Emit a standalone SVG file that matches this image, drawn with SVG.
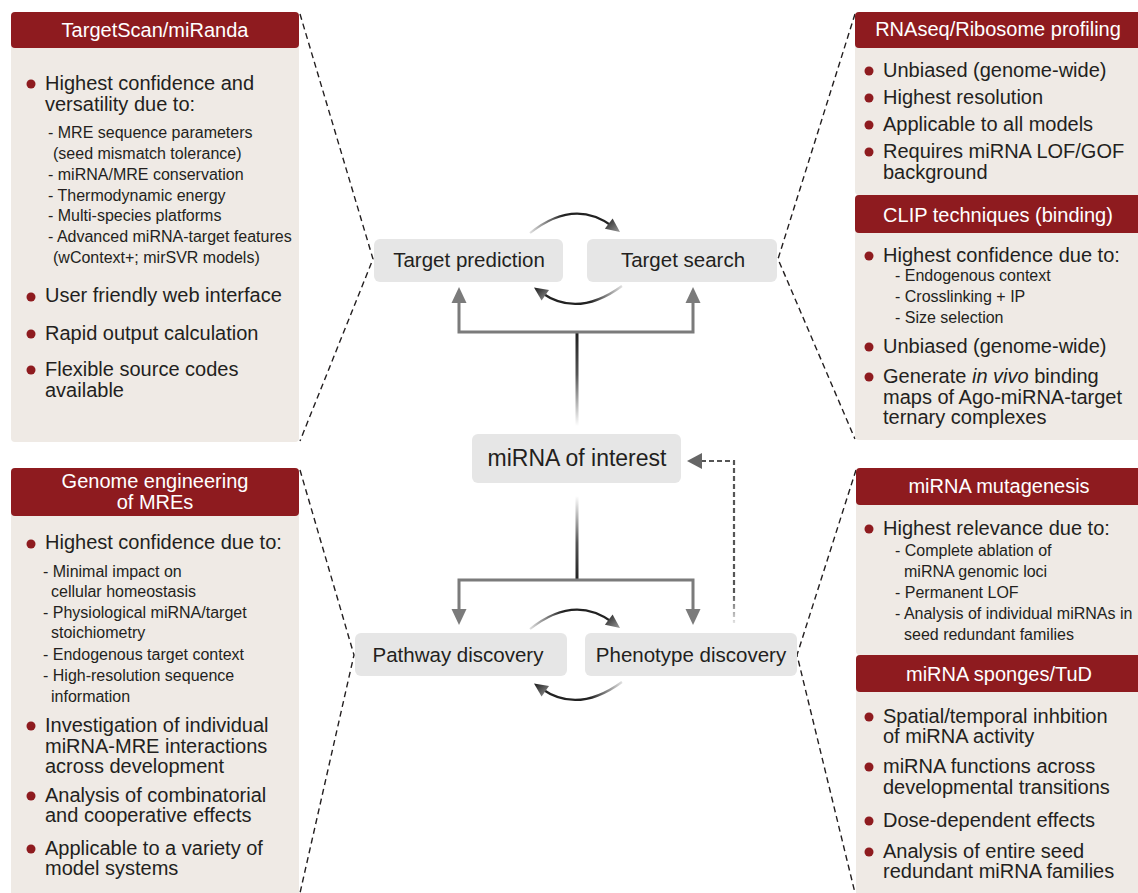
<svg xmlns="http://www.w3.org/2000/svg" width="1138" height="893" viewBox="0 0 1138 893">
  <style>
    text { font-family: "Liberation Sans", Arial, Helvetica, sans-serif; fill: #231f20; }
    .panel { fill: #efeae5; }
    .head { fill: #8e1b1f; }
    .ht { fill: #ffffff; font-size: 20px; text-anchor: middle; }
    .b { font-size: 20px; }
    .s { font-size: 16px; }
    .dot { fill: #8e1b1f; }
    .box { fill: #e6e6e6; }
    .n { font-size: 20.5px; text-anchor: middle; }
    .frame { fill: none; stroke: #231f20; stroke-width: 1.4; stroke-dasharray: 6 4; }
    .branch { fill: none; stroke: #7b7b7b; stroke-width: 3; }
    .bhead { fill: #7b7b7b; }
  </style>
  <defs>
    <linearGradient id="stemUp" gradientUnits="userSpaceOnUse" x1="0" y1="332" x2="0" y2="426">
      <stop offset="0" stop-color="#1e1e1e"/>
      <stop offset="0.45" stop-color="#555"/>
      <stop offset="1" stop-color="#ffffff"/>
    </linearGradient>
    <linearGradient id="stemDown" gradientUnits="userSpaceOnUse" x1="0" y1="496" x2="0" y2="581">
      <stop offset="0" stop-color="#ffffff"/>
      <stop offset="0.55" stop-color="#555"/>
      <stop offset="1" stop-color="#1e1e1e"/>
    </linearGradient>
    <linearGradient id="arcRight" x1="0" y1="0" x2="1" y2="0">
      <stop offset="0" stop-color="#e0e0e0"/>
      <stop offset="0.4" stop-color="#222"/>
      <stop offset="1" stop-color="#222"/>
    </linearGradient>
    <linearGradient id="arcLeft" x1="1" y1="0" x2="0" y2="0">
      <stop offset="0" stop-color="#e0e0e0"/>
      <stop offset="0.4" stop-color="#222"/>
      <stop offset="1" stop-color="#222"/>
    </linearGradient>
    <linearGradient id="headShade" x1="0" y1="0" x2="1" y2="1">
      <stop offset="0" stop-color="#1a1a1a"/>
      <stop offset="1" stop-color="#9a9a9a"/>
    </linearGradient>
    <linearGradient id="dashFade" gradientUnits="userSpaceOnUse" x1="0" y1="455" x2="0" y2="624">
      <stop offset="0" stop-color="#555"/>
      <stop offset="0.82" stop-color="#555"/>
      <stop offset="1" stop-color="#e8e8e8"/>
    </linearGradient>
    <!-- a pair of curved arrows cycling between two neighbouring boxes -->
    <g id="cycle">
      <path d="M530,233 Q574,198 612,226" fill="none" stroke="url(#arcRight)" stroke-width="2.2"/>
      <polygon points="620,232 604.9,228.8 612.6,218.4" fill="url(#headShade)"/>
      <path d="M622,286 Q578,318 542,293" fill="none" stroke="url(#arcLeft)" stroke-width="2.2"/>
      <polygon points="534,287.5 549,290 541.6,300.6" fill="url(#headShade)"/>
    </g>
  </defs>

  <rect width="1138" height="893" fill="#ffffff"/>

  <!-- dashed outlines tying each panel to its central box -->
  <g id="frames">
    <path class="frame" d="M300,14 L373,259 L300,441"/>
    <path class="frame" d="M855,14 L778,259 L855,439"/>
    <path class="frame" d="M300,470 L354,655 L300,893"/>
    <path class="frame" d="M856,470 L797,655 L855,893"/>
  </g>

  <!-- connectors -->
  <g id="connectors">
    <line x1="577" y1="332" x2="577" y2="426" stroke="url(#stemUp)" stroke-width="3"/>
    <path class="branch" d="M459,302 V332 H693 V302"/>
    <polygon class="bhead" points="459,287 451.5,303 466.5,303"/>
    <polygon class="bhead" points="693,287 685.5,303 700.5,303"/>

    <line x1="577" y1="496" x2="577" y2="581" stroke="url(#stemDown)" stroke-width="3"/>
    <path class="branch" d="M459,610 V580 H693 V610"/>
    <polygon class="bhead" points="459,625 451.5,609 466.5,609"/>
    <polygon class="bhead" points="693,625 685.5,609 700.5,609"/>

    <path d="M701,461 H734 V623" fill="none" stroke="url(#dashFade)" stroke-width="2.2" stroke-dasharray="5 3"/>
    <polygon points="687,461 702,453 702,469" fill="#666"/>

    <use href="#cycle"/>
    <use href="#cycle" transform="translate(0,396)"/>
  </g>

  <!-- central boxes -->
  <g id="target-prediction">
    <rect class="box" x="374" y="239" width="189" height="43" rx="6"/>
    <text class="n" x="469" y="267">Target prediction</text>
  </g>
  <g id="target-search">
    <rect class="box" x="587" y="239" width="190" height="43" rx="6"/>
    <text class="n" x="683" y="267">Target search</text>
  </g>
  <g id="mirna-of-interest">
    <rect class="box" x="472" y="434" width="209" height="49" rx="6"/>
    <text class="n" x="577" y="466" style="font-size:23px">miRNA of interest</text>
  </g>
  <g id="pathway-discovery">
    <rect class="box" x="355" y="633" width="212" height="43" rx="6"/>
    <text class="n" x="458" y="662">Pathway discovery</text>
  </g>
  <g id="phenotype-discovery">
    <rect class="box" x="585" y="633" width="212" height="43" rx="6"/>
    <text class="n" x="691" y="662">Phenotype discovery</text>
  </g>

  <!-- top left panel -->
  <g id="targetscan-panel">
    <rect class="panel" x="11" y="12" width="288" height="430" rx="4"/>
    <rect class="head" x="11" y="12" width="288" height="36" rx="4"/>
    <text class="ht" x="155" y="37">TargetScan/miRanda</text>
    <circle class="dot" cx="31" cy="84" r="4.5"/>
    <text class="b" x="45" y="90">Highest confidence and</text>
    <text class="b" x="45" y="111">versatility due to:</text>
    <text class="s" x="48" y="138">- MRE sequence parameters</text>
    <text class="s" x="53" y="159">(seed mismatch tolerance)</text>
    <text class="s" x="48" y="180">- miRNA/MRE conservation</text>
    <text class="s" x="48" y="201">- Thermodynamic energy</text>
    <text class="s" x="48" y="221">- Multi-species platforms</text>
    <text class="s" x="48" y="242">- Advanced miRNA-target features</text>
    <text class="s" x="53" y="263">(wContext+; mirSVR models)</text>
    <circle class="dot" cx="31" cy="297" r="4.5"/>
    <text class="b" x="45" y="302">User friendly web interface</text>
    <circle class="dot" cx="31" cy="334" r="4.5"/>
    <text class="b" x="45" y="340">Rapid output calculation</text>
    <circle class="dot" cx="31" cy="370" r="4.5"/>
    <text class="b" x="45" y="376">Flexible source codes</text>
    <text class="b" x="45" y="397">available</text>
  </g>

  <!-- top right panels -->
  <g id="rnaseq-panel">
    <rect class="panel" x="855" y="12" width="300" height="183" rx="4"/>
    <rect class="head" x="855" y="12" width="300" height="36" rx="4"/>
    <text class="ht" x="998" y="36">RNAseq/Ribosome profiling</text>
    <circle class="dot" cx="869" cy="71" r="4.5"/>
    <text class="b" x="883" y="77">Unbiased (genome-wide)</text>
    <circle class="dot" cx="869" cy="98" r="4.5"/>
    <text class="b" x="883" y="104">Highest resolution</text>
    <circle class="dot" cx="869" cy="125" r="4.5"/>
    <text class="b" x="883" y="131">Applicable to all models</text>
    <circle class="dot" cx="869" cy="152" r="4.5"/>
    <text class="b" x="883" y="158">Requires miRNA LOF/GOF</text>
    <text class="b" x="883" y="179">background</text>
  </g>
  <g id="clip-panel">
    <rect class="panel" x="855" y="195" width="300" height="245" rx="4"/>
    <rect class="head" x="855" y="195" width="300" height="38" rx="4"/>
    <text class="ht" x="998" y="222">CLIP techniques (binding)</text>
    <circle class="dot" cx="869" cy="256" r="4.5"/>
    <text class="b" x="883" y="262">Highest confidence due to:</text>
    <text class="s" x="895" y="281">- Endogenous context</text>
    <text class="s" x="895" y="302">- Crosslinking + IP</text>
    <text class="s" x="895" y="323">- Size selection</text>
    <circle class="dot" cx="869" cy="347" r="4.5"/>
    <text class="b" x="883" y="353">Unbiased (genome-wide)</text>
    <circle class="dot" cx="869" cy="377" r="4.5"/>
    <text class="b" x="883" y="383">Generate <tspan font-style="italic">in vivo</tspan> binding</text>
    <text class="b" x="883" y="404">maps of Ago-miRNA-target</text>
    <text class="b" x="883" y="424">ternary complexes</text>
  </g>

  <!-- bottom left panel -->
  <g id="genome-engineering-panel">
    <rect class="panel" x="11" y="468" width="288" height="440" rx="4"/>
    <rect class="head" x="11" y="468" width="288" height="48" rx="4"/>
    <text class="ht" x="155" y="488">Genome engineering</text>
    <text class="ht" x="155" y="509">of MREs</text>
    <circle class="dot" cx="31" cy="544" r="4.5"/>
    <text class="b" x="45" y="549">Highest confidence due to:</text>
    <text class="s" x="43" y="577">- Minimal impact on</text>
    <text class="s" x="51" y="597">cellular homeostasis</text>
    <text class="s" x="43" y="618">- Physiological miRNA/target</text>
    <text class="s" x="51" y="638">stoichiometry</text>
    <text class="s" x="43" y="660">- Endogenous target context</text>
    <text class="s" x="43" y="681">- High-resolution sequence</text>
    <text class="s" x="51" y="702">information</text>
    <circle class="dot" cx="31" cy="726" r="4.5"/>
    <text class="b" x="45" y="732">Investigation of individual</text>
    <text class="b" x="45" y="753">miRNA-MRE interactions</text>
    <text class="b" x="45" y="773">across development</text>
    <circle class="dot" cx="31" cy="796" r="4.5"/>
    <text class="b" x="45" y="802">Analysis of combinatorial</text>
    <text class="b" x="45" y="822">and cooperative effects</text>
    <circle class="dot" cx="31" cy="849" r="4.5"/>
    <text class="b" x="45" y="855">Applicable to a variety of</text>
    <text class="b" x="45" y="875">model systems</text>
  </g>

  <!-- bottom right panels -->
  <g id="mutagenesis-panel">
    <rect class="panel" x="856" y="468" width="300" height="187" rx="4"/>
    <rect class="head" x="856" y="468" width="300" height="37" rx="4"/>
    <text class="ht" x="999" y="493">miRNA mutagenesis</text>
    <circle class="dot" cx="869" cy="529" r="4.5"/>
    <text class="b" x="883" y="535">Highest relevance due to:</text>
    <text class="s" x="895" y="556">- Complete ablation of</text>
    <text class="s" x="904" y="577">miRNA genomic loci</text>
    <text class="s" x="895" y="598">- Permanent LOF</text>
    <text class="s" x="895" y="619">- Analysis of individual miRNAs in</text>
    <text class="s" x="904" y="640">seed redundant families</text>
  </g>
  <g id="sponges-panel">
    <rect class="panel" x="856" y="655" width="300" height="250" rx="4"/>
    <rect class="head" x="856" y="655" width="300" height="37" rx="4"/>
    <text class="ht" x="999" y="681">miRNA sponges/TuD</text>
    <circle class="dot" cx="869" cy="717" r="4.5"/>
    <text class="b" x="883" y="723">Spatial/temporal inhbition</text>
    <text class="b" x="883" y="743">of miRNA activity</text>
    <circle class="dot" cx="869" cy="767" r="4.5"/>
    <text class="b" x="883" y="773">miRNA functions across</text>
    <text class="b" x="883" y="794">developmental transitions</text>
    <circle class="dot" cx="869" cy="821" r="4.5"/>
    <text class="b" x="883" y="827">Dose-dependent effects</text>
    <circle class="dot" cx="869" cy="852" r="4.5"/>
    <text class="b" x="883" y="858">Analysis of entire seed</text>
    <text class="b" x="883" y="878">redundant miRNA families</text>
  </g>
</svg>
